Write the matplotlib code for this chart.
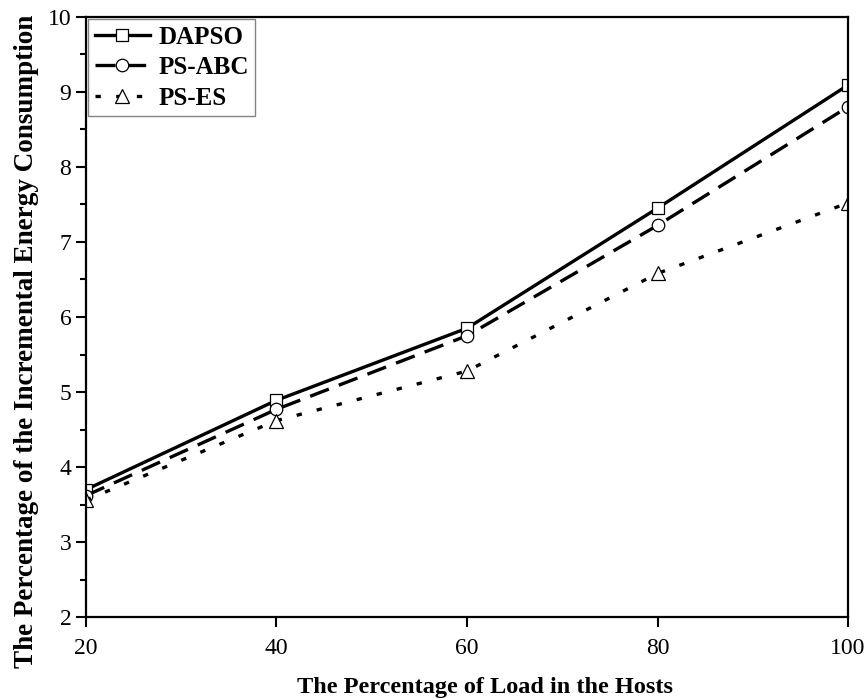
import matplotlib
matplotlib.use("Agg")
import matplotlib.pyplot as plt
from matplotlib.ticker import MultipleLocator

plt.rcParams["font.family"] = ["Liberation Serif", "DejaVu Serif"]

load = [20, 40, 60, 80, 100]
dapso = [3.70, 4.89, 5.85, 7.45, 9.09]
ps_abc = [3.62, 4.77, 5.75, 7.22, 8.80]
ps_es = [3.56, 4.62, 5.28, 6.58, 7.52]

fig = plt.figure(figsize=(8.68, 6.99), dpi=100)
ax = fig.add_axes([0.099, 0.117, 0.878, 0.859])

ax.plot(load, dapso, color="black", lw=2.4, ls="-", marker="s", ms=8,
        mfc="white", mec="black", mew=0.9, label="DAPSO")
ax.plot(load, ps_abc, color="black", lw=2.4, ls=(0, (6, 3.2)), marker="o", ms=9,
        mfc="white", mec="black", mew=0.9, label="PS-ABC")
ax.plot(load, ps_es, color="black", lw=2.4, ls=(0, (1.6, 4.6)), marker="^", ms=10,
        mfc="white", mec="black", mew=0.9, label="PS-ES")

ax.set_xlim(20, 100)
ax.set_ylim(2, 10)
ax.xaxis.set_major_locator(MultipleLocator(20))
ax.yaxis.set_major_locator(MultipleLocator(1))
ax.yaxis.set_minor_locator(MultipleLocator(0.5))
ax.tick_params(axis="both", which="major", direction="out", length=7, width=1.5, labelsize=17)
ax.tick_params(axis="y", which="minor", direction="out", length=4, width=1.5)
ax.tick_params(axis="x", pad=8)
for side in ax.spines.values():
    side.set_linewidth(1.6)

ax.set_xlabel("The Percentage of Load in the Hosts", fontsize=17.5, fontweight="bold")
ax.xaxis.set_label_coords(0.524, -0.1)
ax.set_ylabel("The Percentage of the Incremental Energy Consumption", fontsize=19.5,
              fontweight="bold")
ax.yaxis.set_label_coords(-0.062, 0.46)

leg = ax.legend(loc="upper left", borderaxespad=0.1, fancybox=False, handlelength=2.2,
                prop={"weight": "bold", "size": 18}, labelspacing=0.3,
                handletextpad=0.35, borderpad=0.25)
leg.get_frame().set_edgecolor("#666666")
leg.get_frame().set_linewidth(1.0)

fig.savefig("out.png", dpi=100)
